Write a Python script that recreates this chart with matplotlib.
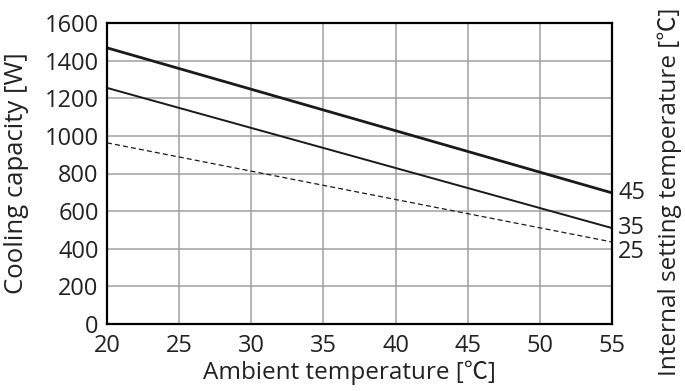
import matplotlib
matplotlib.use("Agg")
import matplotlib.pyplot as plt

x = [20, 55]
line45 = [1468, 697]
line35 = [1255, 510]
line25 = [963, 436]
labels = ["45", "35", "25"]
label_y = [697, 510, 385]
xticks = [20, 25, 30, 35, 40, 45, 50, 55]
yticks = [0, 200, 400, 600, 800, 1000, 1200, 1400, 1600]

plt.rcParams['font.family'] = ['Open Sans', 'Noto Sans CJK JP', 'DejaVu Sans']

fig = plt.figure(figsize=(6.85, 3.91), dpi=100)
ax = fig.add_axes([107/685, 1-324/391, (612-107)/685, (324-23)/391])

ax.plot(x, line45, color='#1a1a1a', lw=2.0, solid_capstyle='butt')
ax.plot(x, line35, color='#1a1a1a', lw=1.4, solid_capstyle='butt')
ax.plot(x, line25, color='#1a1a1a', lw=0.9, ls=(0, (4, 2.5)))

ax.set_xlim(20, 55)
ax.set_ylim(0, 1600)
ax.set_xticks(xticks)
ax.set_yticks(yticks)
ax.grid(True, color='#a0a0a0', lw=1.1)
ax.set_axisbelow(True)
for s in ax.spines.values():
    s.set_color('black')
    s.set_linewidth(1.6)
ax.tick_params(axis='y', length=0, labelsize=17, pad=6, colors='#222222')
ax.tick_params(axis='x', length=0, labelsize=17, pad=7, colors='#222222')

for lab, yy in zip(labels, label_y):
    ax.text(1.012, yy, lab, transform=ax.get_yaxis_transform(), fontsize=17,
            va='center', ha='left', color='#222222', clip_on=False)

ax.set_xlabel("Ambient temperature [℃]", fontsize=17.5, color='#222222')
ax.xaxis.set_label_coords((349 - 107) / 505, -(373 - 324) / 301)
ax.xaxis.label.set_va('center')
ax.set_ylabel("Cooling capacity [W]", fontsize=18.5, color='#222222')
ax.yaxis.set_label_coords((17 - 107) / 505, 0.5)
ax.yaxis.label.set_va('center')
fig.text(670/685, 1-192/391, "Internal setting temperature [℃]", rotation=90,
         fontsize=17.5, color='#222222', ha='center', va='center')

fig.savefig("out.png", dpi=100)
